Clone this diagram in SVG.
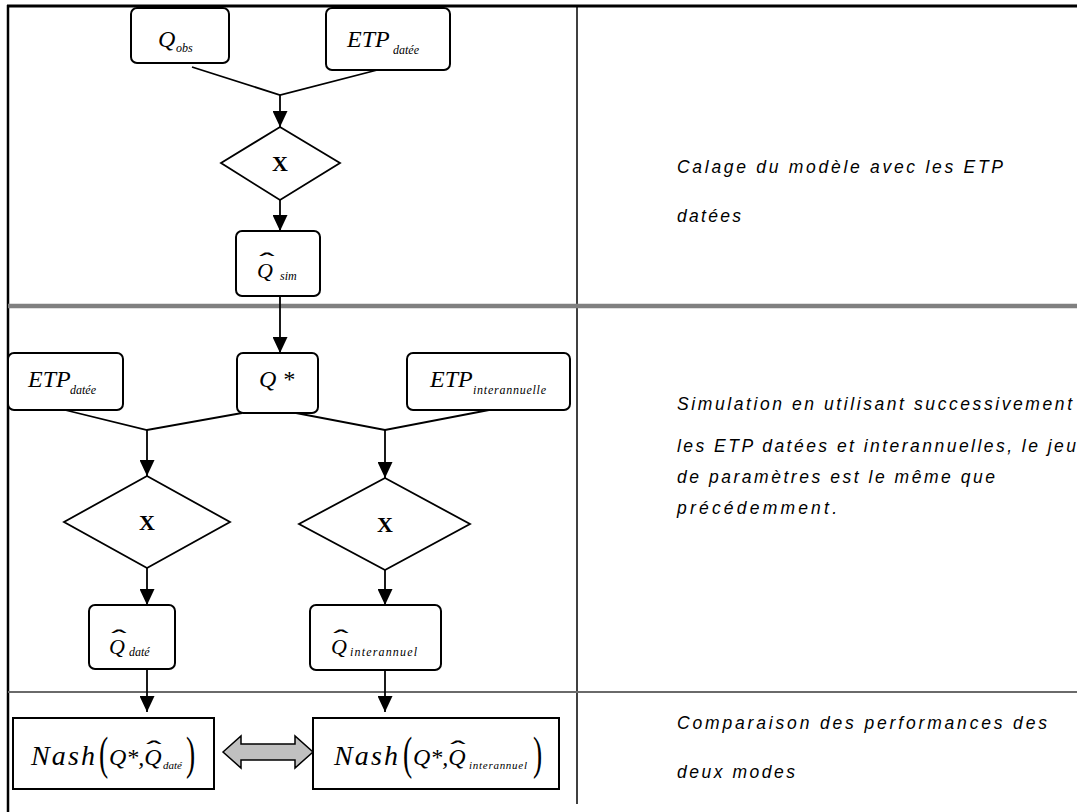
<svg xmlns="http://www.w3.org/2000/svg" width="1077" height="812" viewBox="0 0 1077 812">
<style>
.bg{fill:#fff}
.frame{stroke:#000;fill:none}
.node{fill:#fff;stroke:#000;stroke-width:2}
.box{fill:#fff;stroke:#000;stroke-width:2}
.dia{fill:#fff;stroke:#000;stroke-width:1.8}
.conn{stroke:#000;stroke-width:1.8;fill:none}
.m{font-family:'Liberation Serif','Times New Roman',serif;font-style:italic;font-size:24px;fill:#000}
.q{font-family:'Liberation Serif','Times New Roman',serif;font-style:italic;font-size:22px;fill:#000}
.n{font-family:'Liberation Serif','Times New Roman',serif;font-style:italic;font-size:28px;fill:#000}
.ss{font-size:12px}
.sm{font-size:11px}
.hat{font-family:'Liberation Sans',Arial,sans-serif;font-size:24px;text-anchor:middle;fill:#000}
.par{font-family:'Liberation Serif','Times New Roman',serif;font-size:46px;fill:#000}
.x{font-family:'Liberation Serif','Times New Roman',serif;font-weight:bold;font-size:22px;text-anchor:middle;fill:#000}
.d{font-family:'Liberation Sans',Arial,sans-serif;font-style:italic;font-size:17.5px;fill:#000}
</style>
<defs>
<marker id="ah" viewBox="0 0 16 15" refX="16" refY="7.5" markerWidth="16" markerHeight="15" markerUnits="userSpaceOnUse" orient="auto">
<path d="M0,0 L16,7.5 L0,15 z" fill="#000"/>
</marker>
</defs>
<rect class="bg" x="0" y="0" width="1077" height="812"/>
<g id="frame">
<line class="frame" x1="7" y1="6" x2="1077" y2="6" stroke-width="3"/>
<line class="frame" x1="8" y1="5" x2="8" y2="812" stroke-width="2.5"/>
<line class="frame" x1="577" y1="6" x2="577" y2="804" stroke-width="1.5"/>
<line x1="8" y1="306" x2="1077" y2="306" stroke="#808080" stroke-width="4.5"/>
<line x1="8" y1="692" x2="1077" y2="692" stroke="#6a6a6a" stroke-width="2"/>
</g>
<g id="connectors">
<path class="conn" d="M192,67 L280,95 L385,68"/>
<path class="conn" d="M280,95 V127" marker-end="url(#ah)"/>
<path class="conn" d="M280,200 V231" marker-end="url(#ah)"/>
<path class="conn" d="M280,296 V353" marker-end="url(#ah)"/>
<path class="conn" d="M65,410 L147,430 L242,413"/>
<path class="conn" d="M296,413 L385,430 L489,410"/>
<path class="conn" d="M147,430 V476" marker-end="url(#ah)"/>
<path class="conn" d="M385,430 V478" marker-end="url(#ah)"/>
<path class="conn" d="M147,568 V605" marker-end="url(#ah)"/>
<path class="conn" d="M385,570 V605" marker-end="url(#ah)"/>
<path class="conn" d="M147,669 V712" marker-end="url(#ah)"/>
<path class="conn" d="M385,671 V712" marker-end="url(#ah)"/>
<polygon id="compare-arrow" points="223,752 241,736 241,744 295,744 295,736 313,752 295,768 295,760 241,760 241,768" fill="#c0c0c0" stroke="#000" stroke-width="1.5"/>
</g>
<g id="n-qobs">
<rect class="node" x="131" y="8" width="98" height="55" rx="6"/>
<text class="m" x="158" y="47">Q<tspan class="ss" x="176" y="52">obs</tspan></text>
</g>
<g id="n-etp-datee-1">
<rect class="node" x="326" y="8" width="124" height="62" rx="6"/>
<text class="m" x="347" y="47">ETP<tspan class="ss" x="393" y="54">datée</tspan></text>
</g>
<g id="d-calage">
<polygon class="dia" points="280,127 340,163 280,200 221,163"/>
<text class="x" x="280" y="171">X</text>
</g>
<g id="n-qsim">
<rect class="node" x="236" y="231" width="84" height="65" rx="6"/>
<text class="q" x="257" y="278">Q<tspan class="ss" x="280" y="280">sim</tspan></text>
<text class="hat" transform="translate(267,270) scale(1.9,1)">ˆ</text>
</g>
<g id="n-etp-datee-2">
<rect class="node" x="8" y="353" width="115" height="57" rx="6"/>
<text class="m" x="28" y="387">ETP<tspan class="ss" x="70" y="394">datée</tspan></text>
</g>
<g id="n-qstar">
<rect class="node" x="237" y="353" width="81" height="60" rx="6"/>
<text class="m" x="259" y="387">Q *</text>
</g>
<g id="n-etp-inter">
<rect class="node" x="407" y="353" width="163" height="57" rx="6"/>
<text class="m" x="430" y="387">ETP<tspan class="ss" x="473" y="394" textLength="73" lengthAdjust="spacing">interannuelle</tspan></text>
</g>
<g id="d-sim-datee">
<polygon class="dia" points="147,476 230,522 147,568 64,522"/>
<text class="x" x="147" y="530">X</text>
</g>
<g id="d-sim-inter">
<polygon class="dia" points="385,478 470,524 385,570 299,524"/>
<text class="x" x="385" y="532">X</text>
</g>
<g id="n-qdate">
<rect class="node" x="89" y="605" width="86" height="64" rx="6"/>
<text class="q" x="109" y="654">Q<tspan class="ss" x="129" y="656">daté</tspan></text>
<text class="hat" transform="translate(119,647) scale(1.9,1)">ˆ</text>
</g>
<g id="n-qinter">
<rect class="node" x="310" y="605" width="131" height="65" rx="6"/>
<text class="q" x="331" y="654">Q<tspan class="ss" x="350" y="656" textLength="67" lengthAdjust="spacing">interannuel</tspan></text>
<text class="hat" transform="translate(341,647) scale(1.9,1)">ˆ</text>
</g>
<g id="n-nash-datee">
<rect class="box" x="13" y="718" width="201" height="71"/>
<text class="n" x="31" y="765" textLength="64" lengthAdjust="spacing">Nash</text>
<text class="par" transform="translate(99,769) scale(0.6,1)">(</text>
<text class="m" x="109" y="765">Q*,Q<tspan class="sm" x="163" y="769">daté</tspan></text>
<text class="hat" transform="translate(154,758) scale(1.9,1)">ˆ</text>
<text class="par" transform="translate(186,769) scale(0.6,1)">)</text>
</g>
<g id="n-nash-inter">
<rect class="box" x="313" y="718" width="246" height="71"/>
<text class="n" x="334" y="765" textLength="64" lengthAdjust="spacing">Nash</text>
<text class="par" transform="translate(403,769) scale(0.6,1)">(</text>
<text class="m" x="413" y="765">Q*,Q<tspan class="sm" x="469" y="769" textLength="58" lengthAdjust="spacing">interannuel</tspan></text>
<text class="hat" transform="translate(458,758) scale(1.9,1)">ˆ</text>
<text class="par" transform="translate(533,769) scale(0.6,1)">)</text>
</g>
<g id="descriptions">
<text class="d" x="677" y="173" textLength="326" lengthAdjust="spacing">Calage du modèle avec les ETP</text>
<text class="d" x="677" y="222" textLength="64" lengthAdjust="spacing">datées</text>
<text class="d" x="677" y="410" textLength="395" lengthAdjust="spacing">Simulation en utilisant successivement</text>
<text class="d" x="677" y="452" textLength="399" lengthAdjust="spacing">les ETP datées et interannuelles, le jeu</text>
<text class="d" x="677" y="483" textLength="318" lengthAdjust="spacing">de paramètres est le même que</text>
<text class="d" x="677" y="514" textLength="160" lengthAdjust="spacing">précédemment.</text>
<text class="d" x="677" y="729" textLength="370" lengthAdjust="spacing">Comparaison des performances des</text>
<text class="d" x="677" y="778" textLength="118" lengthAdjust="spacing">deux modes</text>
</g>
</svg>
